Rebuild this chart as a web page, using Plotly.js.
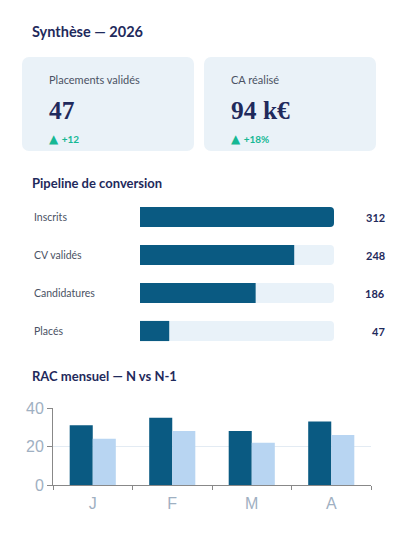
<!DOCTYPE html>
<html lang="fr">
<head>
<meta charset="utf-8">
<title>Synthèse — 2026</title>
<script src="https://cdn.plot.ly/plotly-3.0.1.min.js"></script>
<style>
  html, body { margin: 0; padding: 0; background: #ffffff; }
  body { width: 400px; height: 536px; position: relative; overflow: hidden;
         font-family: Lato, "Noto Sans", sans-serif; color: #1f2a5c; }
  .h { position: absolute; left: 32px; font-weight: 700; color: #1f2a5c; margin: 0; }
  #t1 { top: 23px; font-size: 14.5px; }
  #t2 { top: 175px; font-size: 13px; }
  #t3 { top: 368px; font-size: 13px; }
  .card { position: absolute; top: 57px; width: 172px; height: 94px;
          background: #eaf2f8; border-radius: 7px; }
  #c1 { left: 22px; }
  #c2 { left: 204px; }
  .lbl { position: absolute; left: 27px; top: 16px; font-size: 11px; color: #4a5264; }
  .val { position: absolute; left: 27px; top: 39px; font-family: "Liberation Serif", serif;
         font-weight: 700; font-size: 25.5px; color: #1f2a5c; }
  .delta { position: absolute; left: 27px; top: 75px; font-size: 10px; font-weight: 700; color: #16b894; }
  .delta .tri { font-family: "DejaVu Sans", sans-serif; font-size: 12px; margin-right: 1px; }
  #pipe { position: absolute; left: 0; top: 190px; width: 400px; height: 170px; }
  #rac { position: absolute; left: 0; top: 390px; width: 400px; height: 140px; }
</style>
</head>
<body>
<div class="h" id="t1">Synthèse — 2026</div>

<div class="card" id="c1">
  <div class="lbl" id="k1l"></div>
  <div class="val" id="k1v"></div>
  <div class="delta" id="k1d"></div>
</div>
<div class="card" id="c2">
  <div class="lbl" id="k2l"></div>
  <div class="val" id="k2v"></div>
  <div class="delta" id="k2d"></div>
</div>

<div class="h" id="t2">Pipeline de conversion</div>
<div id="pipe"></div>

<div class="h" id="t3">RAC mensuel — N vs N-1</div>
<div id="rac"></div>

<script>
// KPI cards
const kpiLabels = ["Placements validés", "CA réalisé"];
const kpiValues = ["47", "94 k€"];
const kpiDeltas = ["+12", "+18%"];

// Conversion funnel
const stages = ["Inscrits", "CV validés", "Candidatures", "Placés"];
const stageCounts = [312, 248, 186, 47];

// Monthly RAC, current year vs previous year
const months = ["J", "F", "M", "A"];
const racN = [31, 35, 28, 33];
const racN1 = [24, 28, 22, 26];

const DARK = "#0a5a82";
const LIGHT = "#b8d5f2";
const TRACK = "#e9f2f9";
const NAVY = "#1f2a5c";

kpiLabels.forEach((l, i) => {
  const n = i + 1;
  document.getElementById("k" + n + "l").textContent = l;
  document.getElementById("k" + n + "v").textContent = kpiValues[i];
  const d = document.getElementById("k" + n + "d");
  const tri = document.createElement("span");
  tri.className = "tri";
  tri.textContent = "▲";
  d.appendChild(tri);
  d.appendChild(document.createTextNode(" " + kpiDeltas[i]));
});

// ---- funnel: full-length track behind each stage bar ----
const maxCount = Math.max(...stageCounts);
const pipeTraces = [
  {
    type: "bar", orientation: "h", y: stages, x: stages.map(() => maxCount),
    marker: { color: TRACK, cornerradius: 4 }, hoverinfo: "skip"
  },
  {
    type: "bar", orientation: "h", y: stages, x: stageCounts,
    marker: { color: DARK, cornerradius: 4 }
  }
];
const pipeAnn = [];
stages.forEach((s, i) => {
  pipeAnn.push({
    xref: "paper", yref: "y", x: 0, y: s, xanchor: "left", xshift: -108,
    text: s, showarrow: false, font: { family: "Lato", size: 10.5, color: "#4a5264" }
  });
  pipeAnn.push({
    xref: "paper", yref: "y", x: 1, y: s, xanchor: "right", xshift: 53,
    text: "<b>" + stageCounts[i] + "</b>", showarrow: false,
    font: { family: "Lato", size: 11, color: NAVY }
  });
});
Plotly.newPlot("pipe", pipeTraces, {
  width: 400, height: 170,
  margin: { l: 140, r: 66, t: 8, b: 10 },
  paper_bgcolor: "rgba(0,0,0,0)", plot_bgcolor: "rgba(0,0,0,0)",
  barmode: "overlay", bargap: 0.47, showlegend: false,
  xaxis: { range: [0, maxCount], visible: false, fixedrange: true },
  yaxis: { autorange: "reversed", visible: false, fixedrange: true },
  annotations: pipeAnn
}, { staticPlot: true, displayModeBar: false });

// ---- grouped monthly bars ----
const tickFont = { family: "Liberation Sans, Arial, sans-serif", size: 16, color: "#9fb0c2" };
Plotly.newPlot("rac", [
  { type: "bar", name: "N", x: months, y: racN, marker: { color: DARK } },
  { type: "bar", name: "N-1", x: months, y: racN1, marker: { color: LIGHT } }
], {
  width: 400, height: 140,
  margin: { l: 53, r: 29, t: 18, b: 45 },
  paper_bgcolor: "rgba(0,0,0,0)", plot_bgcolor: "rgba(0,0,0,0)",
  barmode: "group", bargap: 0.42, bargroupgap: 0, showlegend: false,
  xaxis: {
    type: "category", tickson: "boundaries", ticks: "outside", ticklen: 4,
    tickcolor: "#888888", showline: true, linecolor: "#888888", linewidth: 1,
    showgrid: false, tickfont: tickFont, ticklabelstandoff: 4, fixedrange: true
  },
  yaxis: {
    range: [0, 40], tickvals: [0, 20, 40], ticks: "outside", ticklen: 5,
    tickcolor: "#888888", showline: true, linecolor: "#888888", linewidth: 1,
    gridcolor: "#e3ebf3", zeroline: false, tickfont: tickFont, fixedrange: true
  }
}, { staticPlot: true, displayModeBar: false });
</script>
</body>
</html>
